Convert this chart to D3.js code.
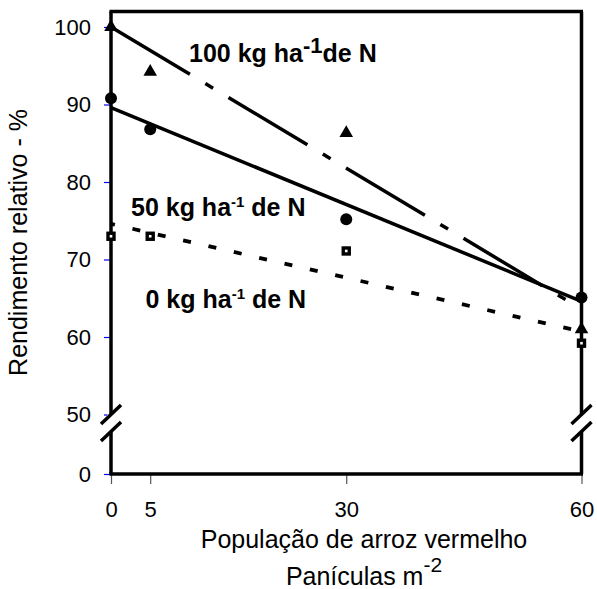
<!DOCTYPE html>
<html><head><meta charset="utf-8">
<script src="https://cdn.jsdelivr.net/npm/d3@7"></script>
<style>
body{margin:0;background:#fff}
svg{display:block}
text{font-family:"Liberation Sans",Arial,Helvetica,sans-serif;fill:#000}
</style>
</head><body>
<svg id="chart" width="597" height="589"></svg>
<script>
// ---- data ----
const populacao = [0, 5, 30, 60];
const n100 = [100, 94.2, 86.3, 61];
const n50 = [90.8, 86.8, 75.2, 65.1];
const n0 = [73, 73, 71.1, 59.2];
const trendX = [0, 60];
const trend100 = [100, 63.6];
const trend50 = [89.6, 64.6];
const trend0 = [74.6, 60.7];
const xTicks = [0, 5, 30, 60];
const yTicks = [0, 50, 60, 70, 80, 90, 100];
const yBreakValue = 50;
const yTitle = "Rendimento relativo - %";
const xTitle1 = "População de arroz vermelho";
const xTitle2 = "Panículas m";
const xTitle2Sup = "-2";

// ---- layout ----
const pL = 111, pR = 581.5, pT = 11.5, pB = 474;
const svg = d3.select("#chart");
const x = d3.scaleLinear().domain([0, 60]).range([pL, pR]);
const y = d3.scaleLinear().domain([0, 50, 102]).range([pB, 414.5, pT]);

// ---- axes (ticks + labels) ----
const ya = svg.append("g").attr("transform", `translate(${pL},0)`)
  .call(d3.axisLeft(y).tickValues(yTicks).tickSize(7).tickPadding(13).tickFormat(d3.format("d")));
ya.select(".domain").remove();
ya.selectAll(".tick line").attr("stroke", "#0000ff").attr("stroke-width", 1.2);
ya.selectAll(".tick text").attr("font-size", 22).attr("font-family", "Liberation Sans, Arial, sans-serif").attr("fill", "#000");

const xa = svg.append("g").attr("transform", `translate(0,${pB})`)
  .call(d3.axisBottom(x).tickValues(xTicks).tickSize(10).tickPadding(17).tickFormat(d3.format("d")));
xa.select(".domain").remove();
xa.selectAll(".tick line").attr("stroke", "#555").attr("stroke-width", 1.2);
xa.selectAll(".tick text").attr("font-size", 22).attr("font-family", "Liberation Sans, Arial, sans-serif").attr("fill", "#000");

// ---- frame ----
const frame = svg.append("g").attr("stroke", "#000").attr("stroke-width", 3.5).attr("fill", "none");
frame.append("line").attr("x1", pL - 1.5).attr("x2", pR + 1.5).attr("y1", pT).attr("y2", pT);
frame.append("line").attr("x1", pL - 1.5).attr("x2", pR + 1.5).attr("y1", pB).attr("y2", pB);
frame.append("line").attr("x1", pL).attr("x2", pL).attr("y1", pT).attr("y2", pB);
frame.append("line").attr("x1", pR).attr("x2", pR).attr("y1", pT).attr("y2", pB);

// ---- axis breaks ----
const yb = y(yBreakValue);
[pL, pR].forEach(ax => {
  svg.append("rect").attr("x", ax - 4).attr("y", yb).attr("width", 8).attr("height", 17).attr("fill", "#fff");
  [0, 17].forEach(off => {
    svg.append("line").attr("x1", ax - 10).attr("y1", yb + off + 9.5)
      .attr("x2", ax + 10).attr("y2", yb + off - 9.5)
      .attr("stroke", "#000").attr("stroke-width", 3.5);
  });
});

// ---- trend lines ----
const line = d3.line().x(d => x(d[0])).y(d => y(d[1]));
const mk = arr => trendX.map((v, i) => [v, arr[i]]);
svg.append("path").datum(mk(trend100)).attr("d", line).attr("fill", "none")
  .attr("stroke", "#000").attr("stroke-width", 3.5).attr("stroke-dasharray", "92,18,9,18");
svg.append("path").datum(mk(trend50)).attr("d", line).attr("fill", "none")
  .attr("stroke", "#000").attr("stroke-width", 3.5);
svg.append("path").datum(mk(trend0)).attr("d", line).attr("fill", "none")
  .attr("stroke", "#000").attr("stroke-width", 3.8).attr("stroke-dasharray", "8,18").attr("stroke-dashoffset", 4);

// ---- markers ----
svg.append("g").selectAll("path").data(populacao.map((v, i) => [v, n100[i]])).join("path")
  .attr("d", d3.symbol(d3.symbolTriangle, 80))
  .attr("transform", d => `translate(${x(d[0])},${y(d[1])})`).attr("fill", "#000");
svg.append("g").selectAll("circle").data(populacao.map((v, i) => [v, n50[i]])).join("circle")
  .attr("cx", d => x(d[0])).attr("cy", d => y(d[1])).attr("r", 6).attr("fill", "#000");
const sq = svg.append("g").selectAll("g").data(populacao.map((v, i) => [v, n0[i]])).join("g")
  .attr("transform", d => `translate(${x(d[0])},${y(d[1])})`);
sq.append("rect").attr("x", -4.7).attr("y", -4.7).attr("width", 9.4).attr("height", 9.4).attr("fill", "#000");
sq.append("rect").attr("x", -1.3).attr("y", -1.3).attr("width", 2.6).attr("height", 2.6).attr("fill", "#fff");

// ---- annotations ----
function label(px, py, main, sup, rest, supSize, supDy) {
  const t = svg.append("text").attr("x", px).attr("y", py).attr("font-size", 25).attr("font-weight", "bold");
  t.append("tspan").text(main);
  t.append("tspan").attr("font-size", supSize).attr("dy", -supDy).text(sup);
  t.append("tspan").attr("font-size", 25).attr("dy", supDy).text(rest);
}
label(189, 61.7, "100 kg ha", "-1", "de N", 22, 9);
label(131, 216, "50 kg ha", "-1", " de N", 15, 9);
label(145.5, 307.7, "0 kg ha", "-1", " de N", 15, 9);

// ---- titles ----
svg.append("text").attr("transform", "translate(27.3,242.5) rotate(-90)")
  .attr("text-anchor", "middle").attr("font-size", 25).text(yTitle);
svg.append("text").attr("x", 364).attr("y", 548).attr("text-anchor", "middle").attr("font-size", 25).text(xTitle1);
const t2 = svg.append("text").attr("x", 364).attr("y", 585).attr("text-anchor", "middle").attr("font-size", 25);
t2.append("tspan").text(xTitle2);
t2.append("tspan").attr("font-size", 21).attr("dy", -13).text(xTitle2Sup);
</script>
</body></html>
